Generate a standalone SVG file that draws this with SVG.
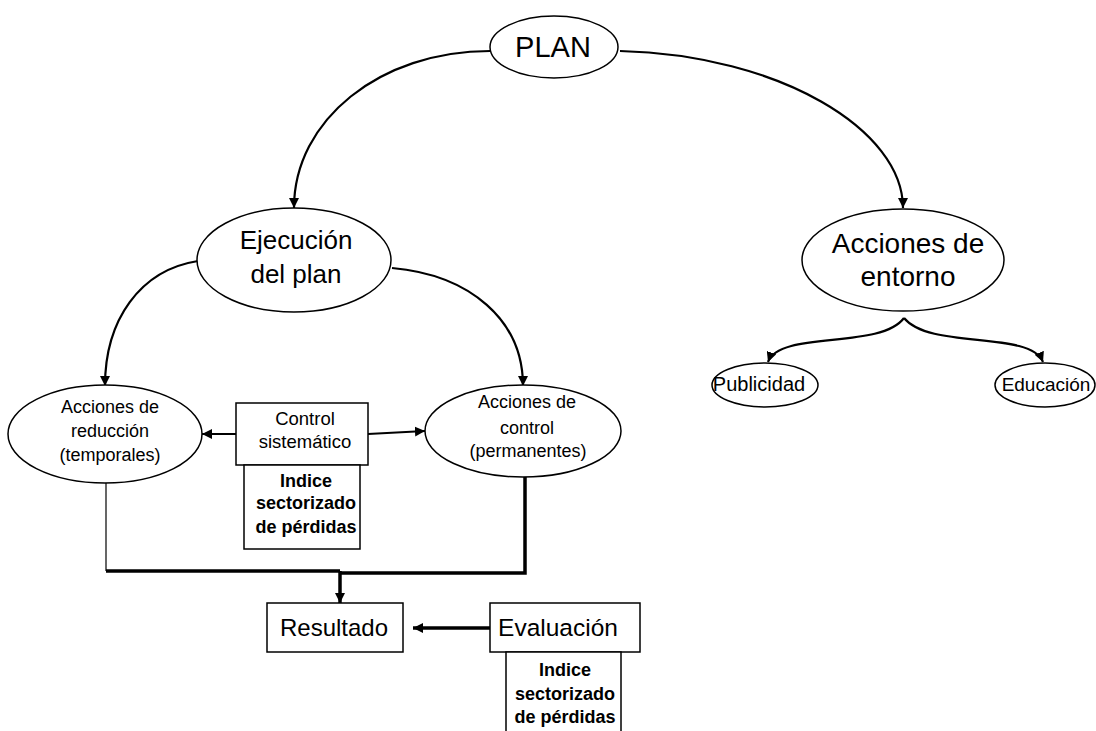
<svg xmlns="http://www.w3.org/2000/svg" width="1096" height="731" viewBox="0 0 1096 731">
<defs>
<style>
.n{fill:#fff;stroke:#000;stroke-width:1.5}
.t{font-family:"Liberation Sans",Arial,sans-serif;fill:#000;text-anchor:middle}
.b{font-weight:bold}
.c{fill:none;stroke:#000;stroke-width:2.2}
.k{fill:none;stroke:#000;stroke-width:3.5}
.h{fill:none;stroke:#000;stroke-width:1.2}
</style>
<marker id="a" markerUnits="userSpaceOnUse" markerWidth="11" markerHeight="10" refX="10" refY="5" orient="auto">
<path d="M0,0 L10,5 L0,10 z" fill="#000"/>
</marker>
</defs>
<g id="connectors">
<path class="c" d="M490,51 C380,51 294,120 294,208" marker-end="url(#a)"/>
<path class="c" d="M620,51 C780,55 903,130 903,208" marker-end="url(#a)"/>
<path class="c" d="M198,261 C140,270 105,320 105,386" marker-end="url(#a)"/>
<path class="c" d="M392,268 C470,275 523,320 523,386" marker-end="url(#a)"/>
<path class="c" d="M904,318 C880,350 780,330 768,362" marker-end="url(#a)"/>
<path class="c" d="M904,318 C930,350 1030,330 1043,362" marker-end="url(#a)"/>
<path class="c" d="M236,434 L202,434" marker-end="url(#a)"/>
<path class="c" d="M368,434 L425,431" marker-end="url(#a)"/>
<path class="h" d="M106,483 L106,571"/>
<path class="k" d="M106,571 L340,571"/>
<path class="k" d="M525,477 L525,573 L340,573"/>
<path class="k" d="M340,571 L340,603" marker-end="url(#a)"/>
<path class="k" d="M490,628 L413,628" marker-end="url(#a)"/>
</g>
<g id="plan">
<ellipse class="n" cx="554" cy="47" rx="64" ry="31"/>
<text class="t" x="553" y="57" font-size="29">PLAN</text>
</g>
<g id="ejecucion">
<ellipse class="n" cx="294" cy="260" rx="97" ry="52"/>
<text class="t" x="296" y="249" font-size="26">Ejecución</text>
<text class="t" x="296" y="283" font-size="26">del plan</text>
</g>
<g id="entorno">
<ellipse class="n" cx="903" cy="260" rx="101" ry="51"/>
<text class="t" x="908" y="253" font-size="28">Acciones de</text>
<text class="t" x="908" y="286" font-size="28">entorno</text>
</g>
<g id="publicidad">
<ellipse class="n" cx="765" cy="385" rx="53" ry="22"/>
<text class="t" x="759" y="391" font-size="20">Publicidad</text>
</g>
<g id="educacion">
<ellipse class="n" cx="1045" cy="385" rx="50" ry="22"/>
<text class="t" x="1046" y="391" font-size="19">Educación</text>
</g>
<g id="reduccion">
<ellipse class="n" cx="105" cy="434" rx="97" ry="49"/>
<text class="t" x="110" y="413" font-size="18">Acciones de</text>
<text class="t" x="110" y="437" font-size="18">reducción</text>
<text class="t" x="110" y="461" font-size="18">(temporales)</text>
</g>
<g id="control">
<rect class="n" x="236" y="403" width="132" height="62"/>
<text class="t" x="305" y="425" font-size="18.5">Control</text>
<text class="t" x="305" y="448" font-size="18.5">sistemático</text>
</g>
<g id="indice1">
<rect class="n" x="244" y="465" width="116" height="84"/>
<text class="t b" x="306" y="487" font-size="18">Indice</text>
<text class="t b" x="306" y="509" font-size="18">sectorizado</text>
<text class="t b" x="306" y="533" font-size="18">de pérdidas</text>
</g>
<g id="acccontrol">
<ellipse class="n" cx="523" cy="431" rx="98" ry="46"/>
<text class="t" x="527" y="408" font-size="18">Acciones de</text>
<text class="t" x="527" y="434" font-size="18">control</text>
<text class="t" x="528" y="457" font-size="18">(permanentes)</text>
</g>
<g id="resultado">
<rect class="n" x="267" y="603" width="136" height="49"/>
<text class="t" x="334" y="636" font-size="24">Resultado</text>
</g>
<g id="evaluacion">
<rect class="n" x="490" y="603" width="150" height="49"/>
<text class="t" x="558" y="636" font-size="24.5">Evaluación</text>
</g>
<g id="indice2">
<rect class="n" x="506" y="652" width="115" height="90"/>
<text class="t b" x="565" y="676" font-size="18">Indice</text>
<text class="t b" x="565" y="700" font-size="18">sectorizado</text>
<text class="t b" x="565" y="723" font-size="18">de pérdidas</text>
</g>
</svg>
